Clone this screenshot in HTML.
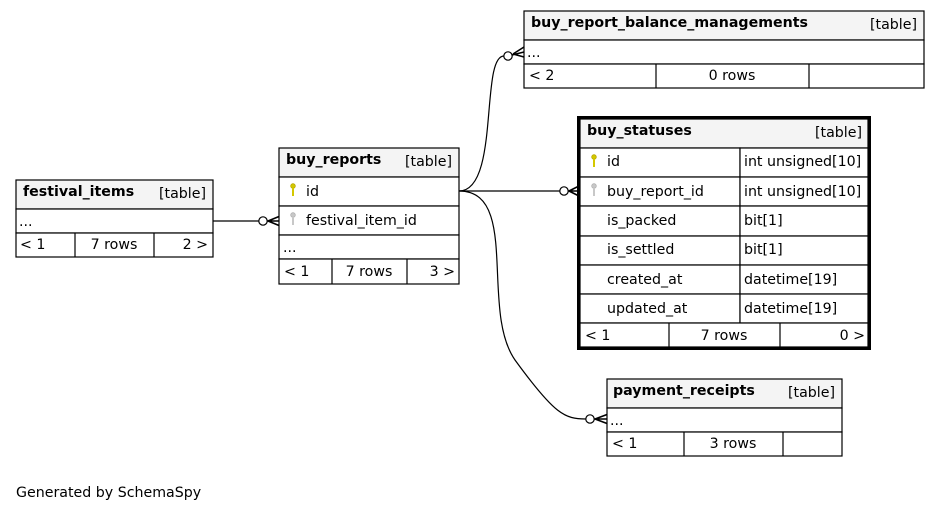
<!DOCTYPE html>
<html><head><meta charset="utf-8"><style>
html,body{margin:0;padding:0;background:#fff;width:940px;height:511px;overflow:hidden}
svg text{font-family:"DejaVu Sans","Liberation Sans",sans-serif;font-size:14.2px;fill:#000}
.b{font-weight:bold}
</style></head><body>
<svg width="940" height="511" viewBox="0 0 940 511" xmlns="http://www.w3.org/2000/svg">
<defs>
<g id="pk"><circle cx="0" cy="-3" r="2.3" fill="#d4c800" stroke="#b8a800" stroke-width="0.8"/><line x1="0" y1="-1" x2="0" y2="7" stroke="#d4c800" stroke-width="2"/></g>
<g id="fk"><circle cx="0" cy="-3" r="2.3" fill="#c8c8c8" stroke="#b0b0b0" stroke-width="0.8"/><line x1="0" y1="-1" x2="0" y2="7" stroke="#c8c8c8" stroke-width="2"/></g>
</defs>
<g fill="none" stroke="#000" stroke-width="1.2">
<path d="M213,221 L259,221"/>
<circle cx="263" cy="221" r="4.2" fill="#fff"/>
<path d="M267,221 L279,221 M268,221 L279,216.5 M268,221 L279,225.5" stroke-width="1.6"/>

<path d="M459,191 C500,191 480,56 504,56"/>
<circle cx="508" cy="56" r="4.2" fill="#fff"/>
<path d="M512,55 L524,52 M513,54 L524,47 M513,54 L524,57" stroke-width="1.6"/>

<path d="M459,191 L560,191"/>
<circle cx="564" cy="191" r="4.2" fill="#fff"/>
<path d="M568,191 L578,191 M569,191 L578,186.5 M569,191 L578,195.5" stroke-width="1.6"/>

<path d="M459,191 C520,191 480,310 515,360 C555,415 565,419 586,419"/>
<circle cx="590" cy="419" r="4.2" fill="#fff"/>
<path d="M594,419 L607,419 M595,419 L607,414.5 M595,419 L607,423.5" stroke-width="1.6"/>
</g>

<g stroke="#000" stroke-width="1.2">
<rect x="16" y="180" width="197" height="29" fill="#f4f4f4"/>
<rect x="16" y="209" width="197" height="24" fill="#fff"/>
<rect x="16" y="233" width="197" height="24" fill="#fff"/>
<line x1="75" y1="233" x2="75" y2="257"/><line x1="154" y1="233" x2="154" y2="257"/>
</g>
<text x="23" y="196" class="b">festival_items</text><text x="206" y="198" text-anchor="end">[table]</text>
<text x="19" y="226">...</text>
<text x="20" y="249">&lt; 1</text><text x="114" y="249" text-anchor="middle">7 rows</text><text x="208" y="249" text-anchor="end">2 &gt;</text>

<g stroke="#000" stroke-width="1.2">
<rect x="279" y="148" width="180" height="29" fill="#f4f4f4"/>
<rect x="279" y="177" width="180" height="29" fill="#fff"/>
<rect x="279" y="206" width="180" height="29" fill="#fff"/>
<rect x="279" y="235" width="180" height="24" fill="#fff"/>
<rect x="279" y="259" width="180" height="25" fill="#fff"/>
<line x1="332" y1="259" x2="332" y2="284"/><line x1="407" y1="259" x2="407" y2="284"/>
</g>
<text x="286" y="164" class="b">buy_reports</text><text x="452" y="166" text-anchor="end">[table]</text>
<use href="#pk" x="293" y="189"/><text x="306" y="196">id</text>
<use href="#fk" x="293" y="218"/><text x="306" y="225">festival_item_id</text>
<text x="283" y="252">...</text>
<text x="284" y="276">&lt; 1</text><text x="369" y="276" text-anchor="middle">7 rows</text><text x="455" y="276" text-anchor="end">3 &gt;</text>

<g stroke="#000" stroke-width="1.2">
<rect x="524" y="11" width="400" height="29" fill="#f4f4f4"/>
<rect x="524" y="40" width="400" height="24" fill="#fff"/>
<rect x="524" y="64" width="400" height="24" fill="#fff"/>
<line x1="656" y1="64" x2="656" y2="88"/><line x1="809" y1="64" x2="809" y2="88"/>
</g>
<text x="531" y="27" class="b">buy_report_balance_managements</text><text x="917" y="29" text-anchor="end">[table]</text>
<text x="527" y="57">...</text>
<text x="529" y="80">&lt; 2</text><text x="732" y="80" text-anchor="middle">0 rows</text>

<g stroke="#000" stroke-width="1.2">
<rect x="580" y="119" width="288" height="29" fill="#f4f4f4"/>
<rect x="580" y="148" width="160" height="29" fill="#fff"/><rect x="740" y="148" width="128" height="29" fill="#fff"/>
<rect x="580" y="177" width="160" height="29" fill="#fff"/><rect x="740" y="177" width="128" height="29" fill="#fff"/>
<rect x="580" y="206" width="160" height="30" fill="#fff"/><rect x="740" y="206" width="128" height="30" fill="#fff"/>
<rect x="580" y="236" width="160" height="29" fill="#fff"/><rect x="740" y="236" width="128" height="29" fill="#fff"/>
<rect x="580" y="265" width="160" height="29" fill="#fff"/><rect x="740" y="265" width="128" height="29" fill="#fff"/>
<rect x="580" y="294" width="160" height="29" fill="#fff"/><rect x="740" y="294" width="128" height="29" fill="#fff"/>
<rect x="580" y="323" width="288" height="24" fill="#fff"/>
<line x1="669" y1="323" x2="669" y2="347"/><line x1="780" y1="323" x2="780" y2="347"/>
</g>
<rect x="578.5" y="117.5" width="291" height="231" fill="none" stroke="#000" stroke-width="3"/>
<text x="587" y="135" class="b">buy_statuses</text><text x="862" y="137" text-anchor="end">[table]</text>
<use href="#pk" x="594" y="160"/><text x="607" y="166">id</text><text x="744" y="166">int unsigned[10]</text>
<use href="#fk" x="594" y="189"/><text x="607" y="196">buy_report_id</text><text x="744" y="196">int unsigned[10]</text>
<text x="607" y="225">is_packed</text><text x="744" y="225">bit[1]</text>
<text x="607" y="254">is_settled</text><text x="744" y="254">bit[1]</text>
<text x="607" y="284">created_at</text><text x="744" y="284">datetime[19]</text>
<text x="607" y="313">updated_at</text><text x="744" y="313">datetime[19]</text>
<text x="585" y="340">&lt; 1</text><text x="724" y="340" text-anchor="middle">7 rows</text><text x="865" y="340" text-anchor="end">0 &gt;</text>

<g stroke="#000" stroke-width="1.2">
<rect x="607" y="379" width="235" height="29" fill="#f4f4f4"/>
<rect x="607" y="408" width="235" height="24" fill="#fff"/>
<rect x="607" y="432" width="235" height="24" fill="#fff"/>
<line x1="684" y1="432" x2="684" y2="456"/><line x1="783" y1="432" x2="783" y2="456"/>
</g>
<text x="613" y="395" class="b">payment_receipts</text><text x="835" y="397" text-anchor="end">[table]</text>
<text x="610" y="425">...</text>
<text x="612" y="448">&lt; 1</text><text x="733" y="448" text-anchor="middle">3 rows</text>

<text x="16" y="497">Generated by SchemaSpy</text>
</svg>
</body></html>
